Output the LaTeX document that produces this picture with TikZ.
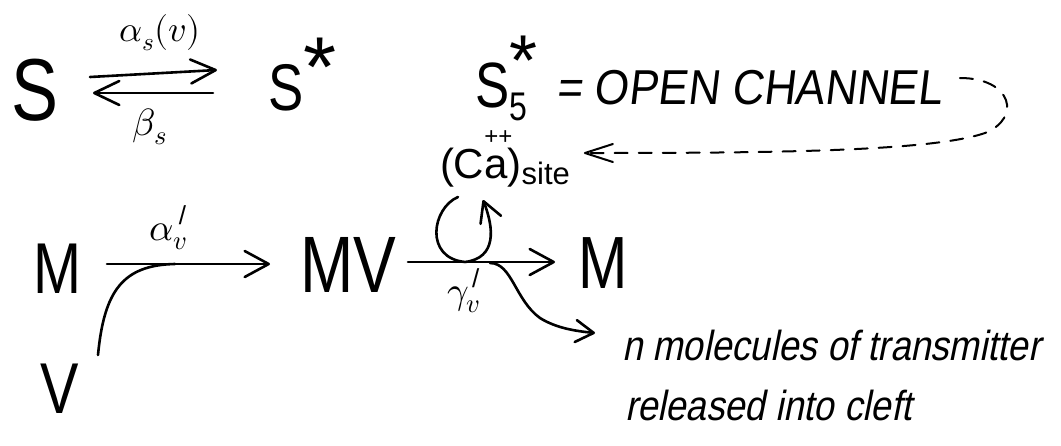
\documentclass[tikz,border=0pt]{standalone}
\usepackage{fontspec}
\usepackage{unicode-math}
\usetikzlibrary{arrows.meta,calc}
\newfontfamily\hand[FakeStretch=0.8]{Liberation Sans}
\newfontfamily\plainsans{Liberation Sans}
\newfontfamily\handsl[FakeStretch=0.9,FakeSlant=0.12]{Liberation Sans}
\newfontfamily\cursive[FakeStretch=0.87,FakeSlant=0.2]{Liberation Sans}
\newcommand\fs[1]{\fontsize{#1}{#1}\selectfont}
\newcommand\tick{\llap{\plainsans\fs{26}\raisebox{16pt}{/}\kern1pt}}
\begin{document}
\begin{tikzpicture}[x=1pt,y=-1pt,
  lbl/.style={inner sep=0pt,outer sep=0pt},
  big/.style={lbl,anchor=base west},
  stroke/.style={line width=2.6pt,line cap=round,line join=round},
  arr/.style={stroke,-{Straight Barb[length=24pt,width=26pt,round]}},
  arrsmall/.style={stroke,-{Straight Barb[length=20pt,width=22pt,round]}},
  dasharr/.style={line width=2pt,line cap=round,dash pattern=on 13pt off 11pt,
     -{Straight Barb[length=28pt,width=18pt,round]}}
]
\fill[white] (0,0) rectangle (1061,445);
\useasboundingbox (0,0) rectangle (1061,445);

% top row
\node[big] (S) at (12,120) {\hand\fs{88}S};
\node[big] (Sst) at (268,110) {\hand\fs{66}S\plainsans\fs{85}\raisebox{14pt}{*}};
\node[lbl] (la) at (160,33) {\fs{36}$\alpha_s(v)$};
\node[lbl] (lb) at (150,127) {\fs{38}$\beta_s$};
\draw[stroke,-{Straight Barb[length=25pt,width=24pt,round]}]
  ([shift={(78,-43)}]S.base west) -- ([shift={(-51,-40)}]Sst.base west);
\draw[stroke,-{Straight Barb[length=25pt,width=24pt,round]}]
  ([shift={(-55,-17)}]Sst.base west) -- ([shift={(81,-27)}]S.base west);

\node[big] (S5) at (475,107) {\hand\fs{64}S\rlap{\plainsans\fs{72}\raisebox{22pt}{*}}\fs{40}\raisebox{-13pt}{5}};
\node[big] (chan) at (556,104) {\handsl\fs{49}= OPEN CHANNEL};

\node[big] (Ca) at (440,178) {\plainsans\fs{42}(C\rlap{\raisebox{34pt}{\fs{24}++}}a)\fs{31}\raisebox{-6pt}{site}};

\draw[dasharr] ([shift={(18,-26)}]chan.base east)
  .. controls (1012,78) and (1022,118) .. (985,133)
  .. controls (930,152) and (760,153) .. ([shift={(14,-25)}]Ca.base east);

% bottom row
\node[big] (M1) at (33,293) {\hand\fs{72}M};
\node[big] (V) at (40,413) {\hand\fs{72}V};
\node[big] (MV) at (300,292) {\hand\fs{80}MV};
\node[big] (M2) at (578,288) {\hand\fs{74}M};
\node[big] (la2) at (149,240) {\fs{38}$\alpha_{v}$\tick};
\node[big] (lg) at (447,303) {\fs{38}$\gamma_{v}$\tick};

\node[big] (t1) at (622,360) {\cursive\fs{42}n molecules of transmitter};
\node[big] (t2) at (625,420) {\cursive\fs{42}released into cleft};

\coordinate (j1) at (175,264);
\coordinate (j2) at (465,262);
\coordinate (lp) at (458,197);

\draw[arr] ([shift={(74,-29)}]M1.base west) -- ([shift={(-30,-28)}]MV.base west);
\draw[stroke] ([shift={(58,-58)}]V.base west) .. controls (104,292) and (122,265) .. (j1);
\draw[arr] ([shift={(12,-30)}]MV.base east) -- ([shift={(-23,-26)}]M2.base west);

\draw[arrsmall] (lp) .. controls (432,208) and (424,258) .. (j2)
  .. controls (497,258) and (494,228) .. ([shift={(43,22)}]Ca.base west);
\draw[stroke,-{Straight Barb[length=18pt,width=22pt,round]}]
  ([shift={(25,1)}]j2) .. controls (512,263) and (515,300) .. (540,318)
  .. controls (556,328) and (575,331) .. ([shift={(-27,-27)}]t1.base west);
\end{tikzpicture}
\end{document}
